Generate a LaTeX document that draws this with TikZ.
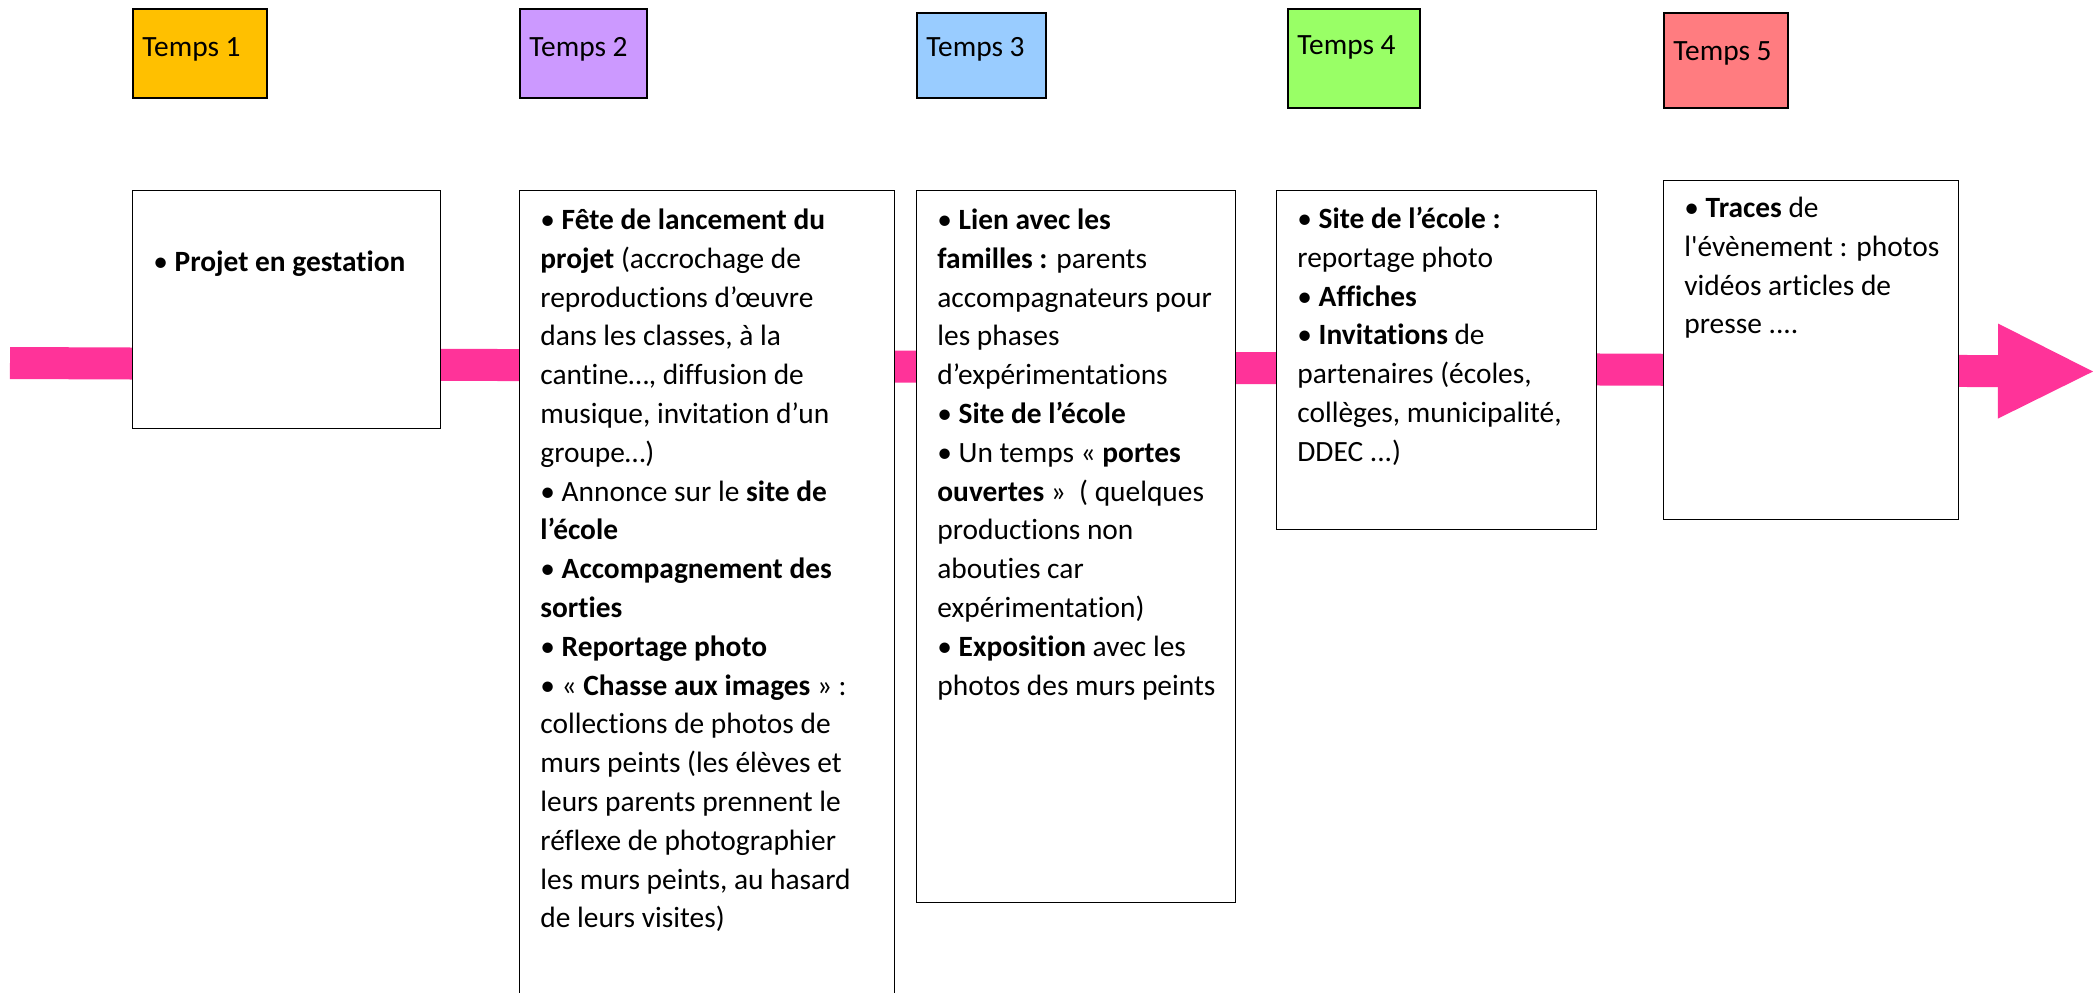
\documentclass[tikz,border=0pt]{standalone}
\usepackage{fontspec}
\setmainfont{Carlito}[Ligatures={NoCommon}]
\usetikzlibrary{arrows.meta}

\definecolor{tempsA}{HTML}{FFC000}
\definecolor{tempsB}{HTML}{CC99FF}
\definecolor{tempsC}{HTML}{99CCFF}
\definecolor{tempsD}{HTML}{99FF66}
\definecolor{tempsE}{HTML}{FF7C80}
\definecolor{rose}{HTML}{FF3399}

\tikzset{
  temps/.style={draw=black, line width=0.8pt, anchor=north west, inner sep=0pt},
  phase/.style={draw=black, line width=0.6pt, fill=white, anchor=north west, inner sep=0pt},
  txt/.style={anchor=north west, inner sep=0pt, align=left, font=\fontsize{14.7}{19.4}\selectfont},
  lbl/.style={anchor=base west, inner sep=0pt, font=\fontsize{14.7}{19.4}\selectfont},
  frise/.style={draw=rose, line width=16pt, -{Triangle[length=47.5pt, width=47.5pt, line width=0pt]}}
}

\begin{document}
\begin{tikzpicture}

\newcommand\X{0.5pt}
\newcommand\Y{-0.5pt}

\useasboundingbox (0,0) rectangle (2093*\X, 992*\Y);

%% la frise
\coordinate (debut) at (10*\X, 363*\Y);
\coordinate (fin) at (2093*\X, 371.5*\Y);
\draw[frise] (debut) -- (fin);

%% temps 1
\node (t1) [temps, fill=tempsA, minimum width=134*\X, minimum height=89*\X] at (132*\X, 8*\Y) {};
\node (l1) [lbl] at ([shift={(10*\X, 48*\Y)}]t1.north west) {Temps 1};

\node (p1) [phase, minimum width=308*\X, minimum height=238*\X] at (132*\X, 190*\Y) {};
\node (x1) [txt] at ([shift={(21*\X, 54*\Y)}]p1.north west) {\strut• \textbf{Projet en gestation}};

%% temps 2
\node (t2) [temps, fill=tempsB, minimum width=127*\X, minimum height=89*\X] at (519*\X, 8*\Y) {};
\node (l2) [lbl] at ([shift={(10*\X, 48*\Y)}]t2.north west) {Temps 2};

\node (p2) [phase, minimum width=375*\X, minimum height=820*\X] at (519*\X, 190*\Y) {};
\node (x2) [txt] at ([shift={(21*\X, 12*\Y)}]p2.north west) {\strut• \textbf{Fête de lancement du}\\
\textbf{projet} (accrochage de\\
reproductions d’œuvre\\
dans les classes, à la\\
cantine…, diffusion de\\
musique, invitation d’un\\
groupe…)\\
• Annonce sur le \textbf{site de}\\
\textbf{l’école}\\
• \textbf{Accompagnement des}\\
\textbf{sorties}\\
• \textbf{Reportage photo}\\
• « \textbf{Chasse aux images} » :\\
collections de photos de\\
murs peints (les élèves et\\
leurs parents prennent le\\
réflexe de photographier\\
les murs peints, au hasard\\
de leurs visites)};

%% temps 3
\node (t3) [temps, fill=tempsC, minimum width=129*\X, minimum height=85*\X] at (916*\X, 12*\Y) {};
\node (l3) [lbl] at ([shift={(10*\X, 44*\Y)}]t3.north west) {Temps 3};

\node (p3) [phase, minimum width=319*\X, minimum height=712*\X] at (916*\X, 190*\Y) {};
\node (x3) [txt] at ([shift={(21*\X, 12*\Y)}]p3.north west) {\strut• \textbf{Lien avec les}\\
\textbf{familles :} parents\\
accompagnateurs pour\\
les phases\\
d’expérimentations\\
• \textbf{Site de l’école}\\
• Un temps « \textbf{portes}\\
\textbf{ouvertes} »\ \ ( quelques\\
productions non\\
abouties car\\
expérimentation)\\
• \textbf{Exposition} avec les\\
photos des murs peints};

%% temps 4
\node (t4) [temps, fill=tempsD, minimum width=132*\X, minimum height=99*\X] at (1287*\X, 8*\Y) {};
\node (l4) [lbl] at ([shift={(10*\X, 46*\Y)}]t4.north west) {Temps 4};

\node (p4) [phase, minimum width=320*\X, minimum height=339*\X] at (1276*\X, 190*\Y) {};
\node (x4) [txt] at ([shift={(21*\X, 11*\Y)}]p4.north west) {\strut• \textbf{Site de l’école :}\\
reportage photo\\
• \textbf{Affiches}\\
• \textbf{Invitations} de\\
partenaires (écoles,\\
collèges, municipalité,\\
DDEC ...)};

%% temps 5
\node (t5) [temps, fill=tempsE, minimum width=124*\X, minimum height=95*\X] at (1663*\X, 12*\Y) {};
\node (l5) [lbl] at ([shift={(10*\X, 48*\Y)}]t5.north west) {Temps 5};

\node (p5) [phase, minimum width=295*\X, minimum height=339*\X] at (1663*\X, 180*\Y) {};
\node (x5) [txt] at ([shift={(21*\X, 10*\Y)}]p5.north west) {\strut• \textbf{Traces} de\\
l\textquotesingle évènement : photos\\
vidéos articles de\\
presse ....};

\end{tikzpicture}
\end{document}
